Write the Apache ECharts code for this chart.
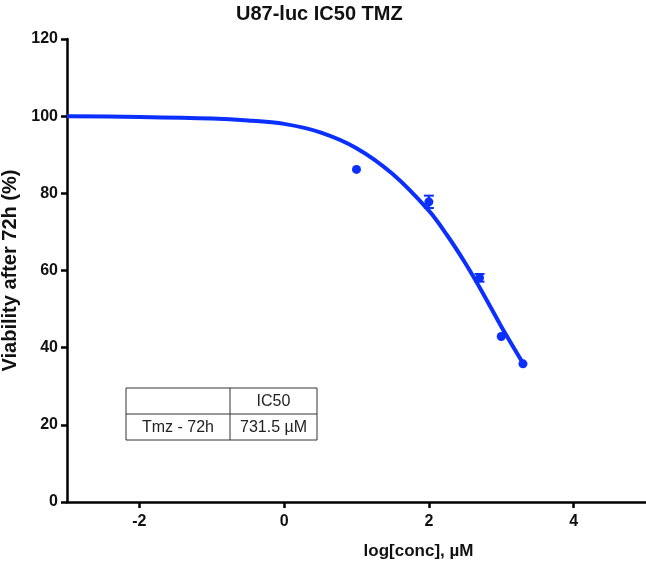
<!DOCTYPE html>
<html>
<head>
<meta charset="utf-8">
<script src="https://cdn.jsdelivr.net/npm/echarts@6/dist/echarts.min.js"></script>
<style>
  html, body { margin: 0; padding: 0; background: #fff; }
  #chart { width: 646px; height: 580px; }
</style>
</head>
<body>
<div id="chart"></div>
<script>
// measured points (log conc, viability %, error)
const logConc = [1, 2, 2.7, 3, 3.3];
const viability = [86.2, 77.8, 58.1, 42.9, 35.8];
const errs = [0, 1.6, 1.0, 0, 0];

// fitted curve
const curveX = [-3, -2, -1, -0.5, 0, 0.5, 1, 1.5, 2, 2.25, 2.5, 2.75, 3, 3.3];
const curveY = [100, 99.8, 99.4, 98.9, 98.0, 95.8, 91.7, 85, 75.5, 69.2, 62, 54, 45.5, 36];

const xTicks = [-2, 0, 2, 4];
const tableRows = [['', 'IC50'], ['Tmz - 72h', '731.5 \u00b5M']];

const blue = '#0a2fff';
const font = '"Liberation Sans", Arial, sans-serif';

const chart = echarts.init(document.getElementById('chart'));

const pts = logConc.map((x, i) => [x, viability[i]]);
const errData = logConc.map((x, i) => [x, viability[i] - errs[i], viability[i] + errs[i]]);
const curve = curveX.map((x, i) => [x, curveY[i]]);

// table drawn as graphic
const tx = 126, ty = 388, c1 = 104, c2 = 87, rh = 26;
const tableEls = [
  { type: 'rect', shape: { x: tx, y: ty, width: c1 + c2, height: rh * 2 }, style: { fill: '#fff', stroke: '#333', lineWidth: 1 } },
  { type: 'line', shape: { x1: tx, y1: ty + rh, x2: tx + c1 + c2, y2: ty + rh }, style: { stroke: '#333', lineWidth: 1 } },
  { type: 'line', shape: { x1: tx + c1, y1: ty, x2: tx + c1, y2: ty + rh * 2 }, style: { stroke: '#333', lineWidth: 1 } }
];
tableRows.forEach((row, r) => {
  row.forEach((txt, c) => {
    tableEls.push({
      type: 'text',
      x: c === 0 ? tx + c1 / 2 : tx + c1 + c2 / 2,
      y: ty + rh * r + rh / 2 + 1,
      style: { text: txt, font: '16px ' + font, fill: '#222', align: 'center', verticalAlign: 'middle' }
    });
  });
});

chart.setOption({
  animation: false,
  title: {
    text: 'U87-luc IC50 TMZ',
    left: 231,
    top: -1,
    textStyle: { fontFamily: font, fontSize: 20, fontWeight: 'bold', color: '#111' }
  },
  grid: { left: 67, right: 0, top: 39, bottom: 78, outerBoundsMode: 'none', containLabel: false },
  xAxis: {
    type: 'value',
    min: -3,
    max: 5,
    name: 'log[conc], \u00b5M',
    nameLocation: 'middle',
    nameGap: 41,
    nameTextStyle: { fontFamily: font, fontSize: 17, fontWeight: 'bold', color: '#111', padding: [0, 0, 0, 124] },
    splitLine: { show: false },
    axisLine: { onZero: false, lineStyle: { color: '#000', width: 2.5 } },
    axisTick: { customValues: xTicks, length: 6, lineStyle: { color: '#000', width: 2.5 } },
    axisLabel: { customValues: xTicks, margin: 12, fontFamily: font, fontSize: 16, fontWeight: 'bold', color: '#111' }
  },
  yAxis: {
    type: 'value',
    min: 0,
    max: 120,
    interval: 20,
    name: 'Viability after 72h (%)',
    nameLocation: 'middle',
    nameGap: 40,
    nameTextStyle: { fontFamily: font, fontSize: 20, fontWeight: 'bold', color: '#111' },
    splitLine: { show: false },
    axisLine: { show: true, onZero: false, lineStyle: { color: '#000', width: 2.5 } },
    axisTick: { show: true, length: 6, lineStyle: { color: '#000', width: 2.5 } },
    axisLabel: { margin: 9, fontFamily: font, fontSize: 16, fontWeight: 'bold', color: '#111' }
  },
  graphic: tableEls,
  series: [
    {
      type: 'line',
      data: curve,
      smooth: 0.3,
      showSymbol: false,
      lineStyle: { color: blue, width: 4 },
      z: 2
    },
    {
      type: 'custom',
      data: errData,
      renderItem: (params, api) => {
        const x = api.value(0);
        if (api.value(2) - api.value(1) <= 0) return null;
        const lo = api.coord([x, api.value(1)]);
        const hi = api.coord([x, api.value(2)]);
        const w = 5;
        const st = { stroke: blue, lineWidth: 2 };
        return {
          type: 'group',
          children: [
            { type: 'line', shape: { x1: lo[0], y1: lo[1], x2: hi[0], y2: hi[1] }, style: st },
            { type: 'line', shape: { x1: lo[0] - w, y1: lo[1], x2: lo[0] + w, y2: lo[1] }, style: st },
            { type: 'line', shape: { x1: hi[0] - w, y1: hi[1], x2: hi[0] + w, y2: hi[1] }, style: st }
          ]
        };
      },
      z: 3
    },
    {
      type: 'scatter',
      data: pts,
      symbol: 'circle',
      symbolSize: 9,
      itemStyle: { color: blue, opacity: 1 },
      z: 4
    }
  ]
});
</script>
</body>
</html>
